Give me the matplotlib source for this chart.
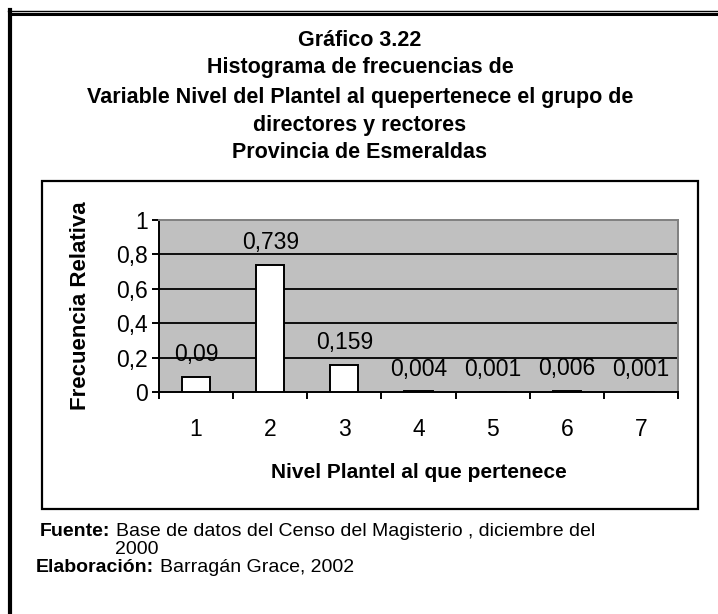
import matplotlib
matplotlib.use('Agg')
import numpy as np
from matplotlib import pyplot as plt
from matplotlib.lines import Line2D
from matplotlib.patches import Rectangle

# data
niveles = [1, 2, 3, 4, 5, 6, 7]
frecuencia = [0.09, 0.739, 0.159, 0.004, 0.001, 0.006, 0.001]
etiquetas = ['0,09', '0,739', '0,159', '0,004', '0,001', '0,006', '0,001']
yticks = [0, 0.2, 0.4, 0.6, 0.8, 1.0]
ytick_labels = ['0', '0,2', '0,4', '0,6', '0,8', '1']

titulo = ['Gráfico 3.22',
          'Histograma de frecuencias de',
          'Variable Nivel del Plantel al quepertenece el grupo de',
          'directores y rectores',
          'Provincia de Esmeraldas']

plt.rcParams['font.family'] = ['Liberation Sans', 'DejaVu Sans']

W, H = 718, 614
fig = plt.figure(figsize=(W / 100, H / 100), dpi=100)


def fx(x):
    return x / W


def fy(y):
    return 1 - y / H


# outer frame (top double line + left edge)
fig.add_artist(Line2D([fx(8), 1], [fy(10.5), fy(10.5)], color='black', lw=1.0))
fig.add_artist(Line2D([fx(10), 1], [fy(14), fy(14)], color='black', lw=2.2))
fig.add_artist(Line2D([fx(10), fx(10)], [fy(10), 0], color='black', lw=3.0))

# inner chart box
fig.add_artist(Rectangle((fx(42), fy(509)), fx(698) - fx(42), fy(181) - fy(509),
                         fill=False, edgecolor='black', lw=1.6))

# title
title_y = [40, 68, 97, 125, 153]
for line, ty in zip(titulo, title_y):
    fig.text(fx(360), fy(ty), line, ha='center', va='center', fontsize=15.5,
             fontweight='bold')

# plot area
ax = fig.add_axes([fx(159), fy(392), fx(678) - fx(159), fy(220) - fy(392)])
ax.set_facecolor('#c0c0c0')
ax.bar(niveles, frecuencia, width=0.38, color='white', edgecolor='black', lw=1.4, zorder=3)
for xi, v, lab in zip(niveles, frecuencia, etiquetas):
    ax.annotate(lab, (xi, v), xytext=(0, 16), textcoords='offset points',
                ha='center', va='center', fontsize=16.5, zorder=4)

ax.set_xlim(0.5, 7.5)
ax.set_ylim(0, 1)
ax.set_yticks(yticks)
ax.set_yticklabels(ytick_labels, fontsize=16.5)
ax.set_xticks(niveles)
ax.set_xticklabels([str(n) for n in niveles], fontsize=16.5)
ax.set_xticks(np.arange(0.5, 8, 1), minor=True)
ax.tick_params(axis='x', which='major', length=0, pad=19)
ax.tick_params(axis='x', which='minor', length=5, width=1.4, direction='out')
ax.tick_params(axis='y', length=5, width=1.4, direction='out', pad=3)
for gy in yticks[1:-1]:
    ax.axhline(gy, color='black', lw=1.3, zorder=1)
ax.spines['left'].set_linewidth(1.4)
ax.spines['bottom'].set_linewidth(1.4)
ax.spines['top'].set_color('#808080')
ax.spines['right'].set_color('#808080')
ax.spines['top'].set_linewidth(1.4)
ax.spines['right'].set_linewidth(1.4)

fig.text(fx(80), fy(306), 'Frecuencia Relativa', rotation=90, ha='center', va='center',
         fontsize=16, fontweight='bold')
fig.text(fx(419), fy(472), 'Nivel Plantel al que pertenece', ha='center', va='center',
         fontsize=15, fontweight='bold')

# footer: bold heading followed by normal text
renderer = fig.canvas.get_renderer()


def footer(x, y, bold, rest, size=14):
    t = fig.text(fx(x), fy(y), bold, ha='left', va='center', fontsize=size,
                 fontweight='bold')
    bb = t.get_window_extent(renderer)
    fig.text(bb.x1 / W + fx(6), fy(y), rest, ha='left', va='center', fontsize=size)


footer(40, 531, 'Fuente:', 'Base de datos del Censo del Magisterio , diciembre del')
fig.text(fx(115), fy(549), '2000', ha='left', va='center', fontsize=14)
footer(36, 567, 'Elaboración:', 'Barragán Grace, 2002')

fig.savefig('out.png', dpi=100)
